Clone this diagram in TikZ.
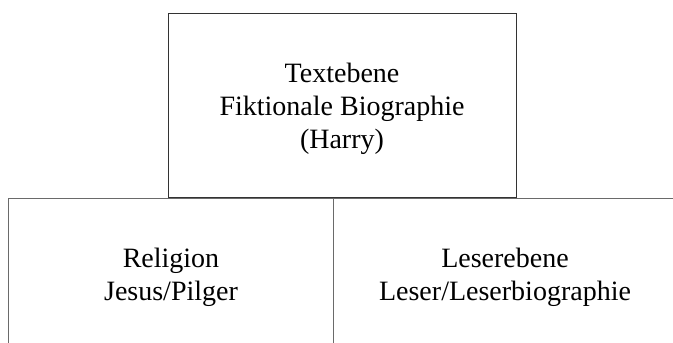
\documentclass[tikz,border=0pt]{standalone}
\usepackage{fontspec}
\setmainfont{Liberation Serif}
\usepackage{xcolor}
\definecolor{mBoxLine}{HTML}{333333}
\definecolor{mCellLine}{HTML}{6A6A6A}
\usetikzlibrary{positioning}

\begin{document}
\begin{tikzpicture}[x=1pt, y=-1pt, font=\fontsize{28}{33}\selectfont]
\useasboundingbox (0,0) rectangle (673,343);
\node[draw=mBoxLine, line width=1pt, minimum width=348pt, minimum height=184pt, inner sep=0pt] (textbox) at (342,105) {};
\node[align=center] (textebene) at (342,109) {Textebene\\ Fiktionale Biographie\\ (Harry)};
\coordinate (lefttop) at (8,198);
\coordinate (leftbot) at (8,343);
\coordinate (midtop) at (333,198);
\coordinate (midbot) at (333,343);
\coordinate (righttop) at (673,198);
\draw[mCellLine, line width=1pt] (leftbot) -- (lefttop) -- (righttop);
\draw[mCellLine, line width=1pt] (midtop) -- (midbot);
\node[align=center] (religion) at (171,277) {Religion\\ Jesus/Pilger};
\node[align=center] (leser) at (505,277) {Leserebene\\ Leser/Leserbiographie};
\end{tikzpicture}
\end{document}
